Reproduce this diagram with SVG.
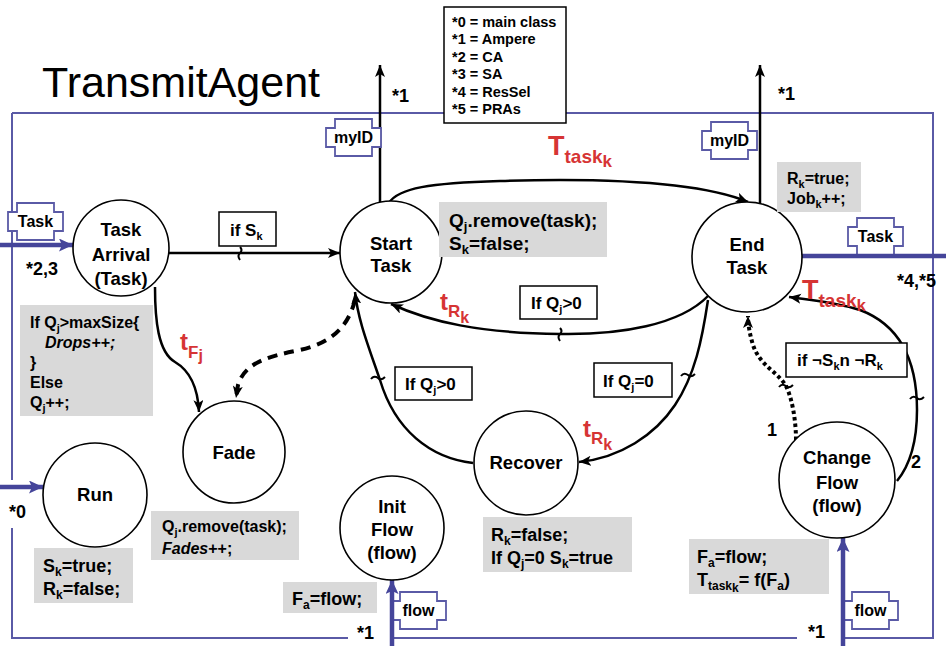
<svg xmlns="http://www.w3.org/2000/svg" width="946" height="646" viewBox="0 0 946 646">
<style>
text{font-family:"Liberation Sans",Arial,sans-serif;font-weight:bold;fill:#000}
.title{font-weight:normal;font-size:43px}
.frame{fill:none;stroke:#5a5aa6;stroke-width:2}
.port use{fill:#fff;stroke:#5a5aa6;stroke-width:1.8}
.port text{font-size:16px;text-anchor:middle}
.blue{fill:none;stroke:#45459a;stroke-width:4.5}
.node circle{fill:#fff;stroke:#000;stroke-width:1.6}
.node text{font-size:18.5px;text-anchor:middle}
.grey{fill:#d9d9d9}
.cond rect{fill:#fff;stroke:#000;stroke-width:1.5}
.cond text{font-size:17px}
.red{fill:#d63434}
.edge{fill:none;stroke:#000;stroke-width:2.5}
.dash{stroke-dasharray:10 7;stroke-width:4}
.dot{stroke-dasharray:3.5 3;stroke-width:4}
.tick{fill:none;stroke:#000;stroke-width:2}
.mark{font-size:18px}
.legend text{font-size:14.5px}
</style>
<defs>
<marker id="ah" markerUnits="userSpaceOnUse" markerWidth="14" markerHeight="12" refX="12" refY="5" orient="auto"><path d="M0,0 L12,5 L0,10 L3,5 Z" fill="#000"/></marker>
<marker id="bah" markerUnits="userSpaceOnUse" markerWidth="16" markerHeight="14" refX="14" refY="6.5" orient="auto"><path d="M0,0 L14,6.5 L0,13 L3,6.5 Z" fill="#45459a"/></marker>
<path id="portShape" d="M9,0 H46 V9 H55 V28 H46 V37 H9 V28 H0 V9 H9 Z"/>
</defs>

<text class="title" x="42" y="97">TransmitAgent</text>

<g id="frame">
<path class="frame" d="M12,113 H933 V638 H845 M797,638 H392 M348,638 H12 V528 M12,480 V113"/>
</g>

<g id="legend" class="legend">
<rect x="444" y="7" width="122" height="116" fill="#fff" stroke="#000" stroke-width="1.5"/>
<text x="452" y="27">*0 = main class</text>
<text x="452" y="44">*1 = Ampere</text>
<text x="452" y="62">*2 = CA</text>
<text x="452" y="79">*3 = SA</text>
<text x="452" y="97">*4 = ResSel</text>
<text x="452" y="114">*5 = PRAs</text>
</g>

<g id="connectors">
<path class="edge" d="M169,253 H340" marker-end="url(#ah)"/>
<path class="edge" d="M380,202 V65" marker-end="url(#ah)"/>
<path class="edge" d="M760,203 V65" marker-end="url(#ah)"/>
<path class="edge" d="M389,203 C398,188 430,183 500,181 C600,178 700,182 748,202" marker-end="url(#ah)"/>
<path class="edge" d="M708,296 C680,325 620,335 560,334 C480,333 430,322 391,304" marker-end="url(#ah)"/>
<path class="edge" d="M708,300 C702,340 695,375 675,405 C655,435 620,458 579,462" marker-end="url(#ah)"/>
<path class="edge" d="M473,463 C430,458 395,430 380,380 C368,345 358,320 355,292" marker-end="url(#ah)"/>
<path class="edge" d="M155,287 C155,320 158,352 175,362 C192,372 198,390 199,412" marker-end="url(#ah)"/>
<path class="edge dash" d="M355,300 C348,328 330,343 300,350 C270,356 245,362 238,385 L236,398" marker-end="url(#ah)"/>
<path class="edge dot" d="M796,440 C796,420 792,398 786,386 C778,372 760,366 753,345 C750,335 748,325 748,316" marker-end="url(#ah)"/>
<path class="edge" d="M897,481 C910,465 917,440 917,410 C917,360 900,325 860,310 C835,302 810,300 789,297" marker-end="url(#ah)"/>
<path class="tick" d="M240,247 q3,3 0,6 q-3,3 0,7"/>
<path class="tick" d="M560,328 q3,3 0,6 q-3,3 0,7"/>
<path class="tick" d="M371,379 q3,-4 7,-1 q3,3 7,-1"/>
<path class="tick" d="M681,376 q3,-4 7,-1 q3,3 7,-1"/>
<path class="tick" d="M779,387 q3,-4 7,-1 q3,3 7,-1"/>
<path class="tick" d="M910,399 q3,-4 7,-1 q3,3 7,-1"/>
</g>

<g id="ports">
<g class="port" id="port-task-in"><use href="#portShape" x="8" y="203"/><text x="35.5" y="227">Task</text></g>
<g class="port" id="port-myid-start"><use href="#portShape" x="326" y="119"/><text x="353.5" y="143">myID</text></g>
<g class="port" id="port-myid-end"><use href="#portShape" x="702" y="122"/><text x="729.5" y="146">myID</text></g>
<g class="port" id="port-task-out"><use href="#portShape" x="848" y="218"/><text x="875.5" y="242">Task</text></g>
<g class="port" id="port-flow-init"><use href="#portShape" x="391" y="592"/><text x="418.5" y="616">flow</text></g>
<g class="port" id="port-flow-change"><use href="#portShape" x="843" y="592"/><text x="870.5" y="616">flow</text></g>
</g>

<g id="blue-arrows">
<path class="blue" d="M0,245 H73" marker-end="url(#bah)"/>
<path class="blue" d="M0,487 H43" marker-end="url(#bah)"/>
<path class="blue" d="M802,256 H946"/>
<path class="blue" d="M392,646 V580" marker-end="url(#bah)"/>
<path class="blue" d="M843,646 V538" marker-end="url(#bah)"/>
</g>

<g id="node-task-arrival" class="node"><circle cx="121" cy="248" r="48"/><text x="121" y="236">Task</text><text x="121" y="261">Arrival</text><text x="121" y="285">(Task)</text></g>
<g id="node-start-task" class="node"><circle cx="391" cy="252" r="51"/><text x="391" y="250">Start</text><text x="391" y="272">Task</text></g>
<g id="node-end-task" class="node"><circle cx="747" cy="257" r="55"/><text x="747" y="251">End</text><text x="747" y="274">Task</text></g>
<g id="node-fade" class="node"><circle cx="234" cy="452" r="51"/><text x="234" y="459">Fade</text></g>
<g id="node-run" class="node"><circle cx="95" cy="495" r="52"/><text x="95" y="501">Run</text></g>
<g id="node-init-flow" class="node"><circle cx="392" cy="528" r="52"/><text x="392" y="513">Init</text><text x="392" y="536">Flow</text><text x="392" y="559">(flow)</text></g>
<g id="node-recover" class="node"><circle cx="526" cy="463" r="52"/><text x="526" y="469">Recover</text></g>
<g id="node-change-flow" class="node"><circle cx="837" cy="480" r="58"/><text x="837" y="464">Change</text><text x="837" y="489">Flow</text><text x="837" y="512">(flow)</text></g>

<g id="actions">
<g id="act-start"><rect class="grey" x="439" y="202" width="168" height="55"/>
<text x="449" y="227" font-size="19">Q<tspan dy="4" font-size="13">j</tspan><tspan dy="-4">.remove(task);</tspan></text>
<text x="449" y="250" font-size="19">S<tspan dy="4" font-size="13">k</tspan><tspan dy="-4">=false;</tspan></text></g>
<g id="act-end"><rect class="grey" x="777" y="162" width="84" height="50"/>
<text x="787" y="184" font-size="16">R<tspan dy="4" font-size="11">k</tspan><tspan dy="-4">=true;</tspan></text>
<text x="787" y="204" font-size="16">Job<tspan dy="4" font-size="11">k</tspan><tspan dy="-4">++;</tspan></text></g>
<g id="act-arrival"><rect class="grey" x="20" y="305" width="133" height="111"/>
<text x="30" y="328" font-size="16">If Q<tspan dy="4" font-size="11">j</tspan><tspan dy="-4">&gt;maxSize{</tspan></text>
<text x="45" y="348" font-size="16" font-style="italic">Drops++;</text>
<text x="30" y="368" font-size="16">}</text>
<text x="30" y="388" font-size="16">Else</text>
<text x="30" y="408" font-size="16">Q<tspan dy="4" font-size="11">j</tspan><tspan dy="-4">++;</tspan></text></g>
<g id="act-fade"><rect class="grey" x="151" y="511" width="148" height="49"/>
<text x="162" y="532" font-size="16">Q<tspan dy="4" font-size="11">j</tspan><tspan dy="-4">.remove(task);</tspan></text>
<text x="162" y="554" font-size="16" font-style="italic">Fades<tspan font-style="normal">++;</tspan></text></g>
<g id="act-run"><rect class="grey" x="34" y="548" width="99" height="55"/>
<text x="43" y="572" font-size="18">S<tspan dy="4" font-size="12">k</tspan><tspan dy="-4">=true;</tspan></text>
<text x="43" y="595" font-size="18">R<tspan dy="4" font-size="12">k</tspan><tspan dy="-4">=false;</tspan></text></g>
<g id="act-init"><rect class="grey" x="283" y="582" width="94" height="31"/>
<text x="292" y="605" font-size="18">F<tspan dy="4" font-size="12">a</tspan><tspan dy="-4">=flow;</tspan></text></g>
<g id="act-recover"><rect class="grey" x="483" y="517" width="149" height="55"/>
<text x="491" y="541" font-size="18">R<tspan dy="4" font-size="12">k</tspan><tspan dy="-4">=false;</tspan></text>
<text x="491" y="564" font-size="18">If Q<tspan dy="4" font-size="12">j</tspan><tspan dy="-4">=0 S</tspan><tspan dy="4" font-size="12">k</tspan><tspan dy="-4">=true</tspan></text></g>
<g id="act-change"><rect class="grey" x="689" y="539" width="140" height="55"/>
<text x="697" y="563" font-size="18">F<tspan dy="4" font-size="12">a</tspan><tspan dy="-4">=flow;</tspan></text>
<text x="697" y="586" font-size="18">T<tspan dy="4" font-size="12">task</tspan><tspan dy="2" font-size="12">k</tspan><tspan dy="-6">= f(F</tspan><tspan dy="4" font-size="12">a</tspan><tspan dy="-4">)</tspan></text></g>
</g>

<g id="conditions">
<g class="cond"><rect x="219" y="212" width="57" height="34"/><text x="230" y="236">if S<tspan dy="4" font-size="11">k</tspan></text></g>
<g class="cond"><rect x="520" y="286" width="77" height="33"/><text x="531" y="309">If Q<tspan dy="4" font-size="11">j</tspan><tspan dy="-4">&gt;0</tspan></text></g>
<g class="cond"><rect x="395" y="367" width="77" height="33"/><text x="405" y="390">If Q<tspan dy="4" font-size="11">j</tspan><tspan dy="-4">&gt;0</tspan></text></g>
<g class="cond"><rect x="594" y="363" width="78" height="34"/><text x="603" y="387">If Q<tspan dy="4" font-size="11">j</tspan><tspan dy="-4">=0</tspan></text></g>
<g class="cond"><rect x="786" y="343" width="121" height="34"/><text x="797" y="366">if ¬S<tspan dy="4" font-size="11">k</tspan><tspan dy="-4">n ¬R</tspan><tspan dy="4" font-size="11">k</tspan></text></g>
</g>

<g id="rates">
<text class="red" x="548" y="155" font-size="27">T<tspan dy="8" font-size="19">task</tspan><tspan dy="4" font-size="17">k</tspan></text>
<text class="red" x="802" y="299" font-size="27">T<tspan dy="8" font-size="19">task</tspan><tspan dy="4" font-size="17">k</tspan></text>
<text class="red" x="440" y="310" font-size="24">t<tspan dy="7" font-size="17">R</tspan><tspan dy="6" font-size="16">k</tspan></text>
<text class="red" x="583" y="437" font-size="24">t<tspan dy="7" font-size="17">R</tspan><tspan dy="6" font-size="16">k</tspan></text>
<text class="red" x="180" y="350" font-size="24">t<tspan dy="8" font-size="17">F</tspan><tspan dy="3" font-size="16">j</tspan></text>
</g>

<g id="marks">
<text class="mark" x="392" y="102">*1</text>
<text class="mark" x="778" y="100">*1</text>
<text class="mark" x="26" y="275" font-size="19">*2,3</text>
<text class="mark" x="897" y="287">*4,*5</text>
<text class="mark" x="9" y="518">*0</text>
<text class="mark" x="357" y="639">*1</text>
<text class="mark" x="808" y="638">*1</text>
<text class="mark" x="767" y="436" font-size="19">1</text>
<text class="mark" x="911" y="468" font-size="19">2</text>
</g>
</svg>
